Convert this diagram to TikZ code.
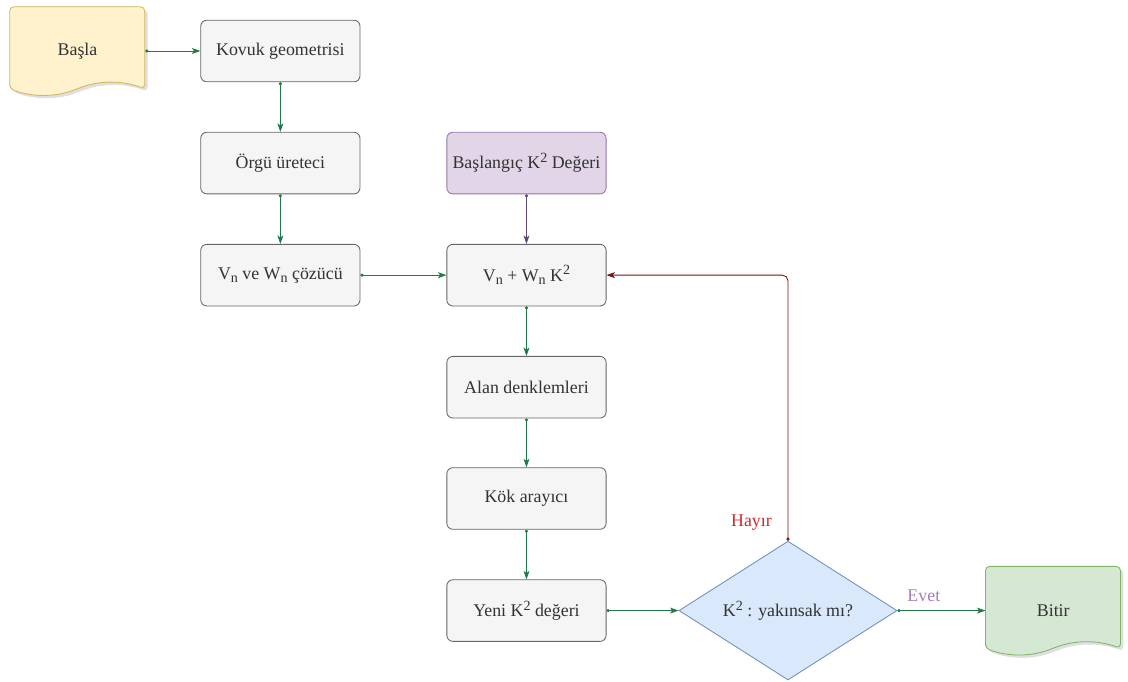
\documentclass[tikz,border=0pt]{standalone}
\usepackage{fontspec}
\setmainfont{Liberation Serif}
\usepackage{tikz}
\usetikzlibrary{arrows.meta, positioning, shapes.geometric, shadows, backgrounds}
\usepackage{xcolor}

\definecolor{boxfill}{HTML}{F5F5F5}
\definecolor{boxline}{HTML}{666666}
\definecolor{txtgray}{HTML}{333333}
\definecolor{startfill}{HTML}{FFF2CC}
\definecolor{startline}{HTML}{D6B656}
\definecolor{endfill}{HTML}{D5E8D4}
\definecolor{endline}{HTML}{82B366}
\definecolor{initfill}{HTML}{E1D5E7}
\definecolor{initline}{HTML}{9673A6}
\definecolor{decfill}{HTML}{DAE8FC}
\definecolor{decline}{HTML}{6C8EBF}
\definecolor{flowgreen}{HTML}{1F7A47}
\definecolor{backred}{HTML}{701414}
\definecolor{initedge}{HTML}{5E4A7A}
\definecolor{hayircol}{HTML}{D62828}
\definecolor{evetcol}{HTML}{A680B8}

% index and power in the labels
\newcommand{\lowidx}[1]{\raisebox{-0.45ex}{\fontsize{10}{12}\selectfont #1}}
\newcommand{\highidx}[1]{\raisebox{0.75ex}{\fontsize{10}{12}\selectfont #1}}

% document shape with a wavy bottom, drawn behind a named node
\newcommand{\docshape}[3]{%
\begin{scope}[on background layer, shift={(#1.south west)}]
\filldraw[fill=#2, draw=#3, line width=0.6pt, rounded corners=3pt,
  drop shadow={opacity=0.25, shadow xshift=2pt, shadow yshift=-2pt}]
  (0,-7) -- (0,-89) -- (135,-89) -- (135,-7)
  .. controls (112.5,-15.4) and (90,-15.4) .. (67.5,-7)
  .. controls (45,1.4) and (22.5,1.4) .. (0,-7) -- cycle;
\end{scope}}

\begin{document}
\begin{tikzpicture}[
x=0.025cm, y=-0.025cm,
node distance=1.24cm,
font=\fontsize{12.7}{15}\selectfont,
text=txtgray,
box/.style={draw=boxline,
fill=boxfill,
rectangle,
rounded corners=0.15cm,
line width=0.6pt,
minimum width=3.98cm,
minimum height=1.54cm,
align=center},
doc/.style={rectangle,
minimum width=3.375cm,
minimum height=2.225cm,
align=center},
initbox/.style={box, draw=initline, fill=initfill},
decision/.style={diamond,
draw=decline,
fill=decfill,
line width=0.6pt,
inner sep=0pt,
aspect=1.57,
minimum width=5.45cm,
minimum height=3.47cm,
align=center},
arrow/.style={{Circle[length=2.2pt]}-{Stealth[length=6pt, width=4.2pt, inset=1.5pt]}, line width=0.6pt, draw=flowgreen},
initarrow/.style={arrow, draw=initedge},
backarrow/.style={arrow, draw=backred, rounded corners=4pt},
lbl/.style={font=\fontsize{12.7}{15}\selectfont}
]

\useasboundingbox (0,0) rectangle (1128,682);

\node[doc] (start) at (77.5,51) {Başla};
\node[box, right=1.375cm of start] (geom) {Kovuk geometrisi};
\node[box, below=of geom] (mesh) {Örgü üreteci};
\node[box, below=of mesh] (solver) {V\lowidx{n} ve W\lowidx{n} çözücü};
\node[box, right=2.15cm of solver] (sum) {V\lowidx{n} + W\lowidx{n} K\highidx{2}};
\node[initbox, above=of sum] (init) {Başlangıç K\highidx{2} Değeri};
\node[box, below=of sum] (field) {Alan denklemleri};
\node[box, below=1.22cm of field] (root) {Kök arayıcı};
\node[box, below=of root] (newk) {Yeni K\highidx{2} değeri};
\node[decision, right=1.8cm of newk] (conv) {K\highidx{2} : yakınsak mı?};
\node[doc, right=2.2cm of conv] (stop) {Bitir};

\docshape{start}{startfill}{startline}
\docshape{stop}{endfill}{endline}

\draw[arrow] (start) -- (geom);
\draw[arrow] (geom) -- (mesh);
\draw[arrow] (mesh) -- (solver);
\draw[arrow] (solver) -- (sum);
\draw[initarrow] (init) -- (sum);
\draw[arrow] (sum) -- (field);
\draw[arrow] (field) -- (root);
\draw[arrow] (root) -- (newk);
\draw[arrow] (newk) -- (conv);
\draw[arrow] (conv) -- node[lbl, pos=0.3, above=3pt, text=evetcol] {Evet} (stop);
\draw[backarrow] (conv.north) |- (sum.east);
\node[lbl, text=hayircol, left=0.28cm of conv.north, yshift=0.45cm] (no) {Hayır};

\end{tikzpicture}
\end{document}
